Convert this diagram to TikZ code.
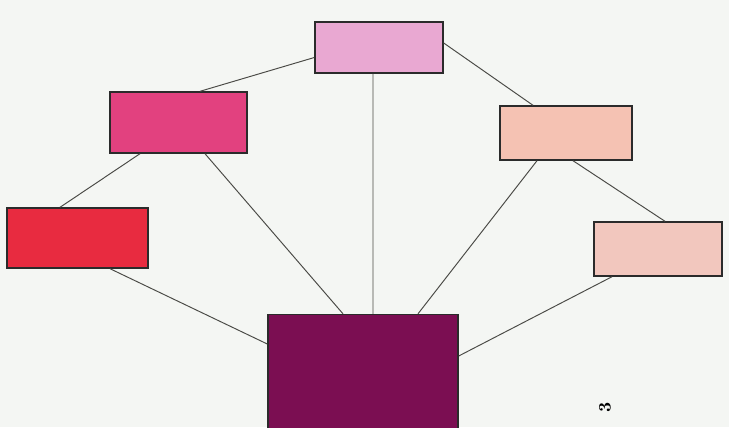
\documentclass[tikz,border=0pt]{standalone}
\usepackage{tikz}
\usetikzlibrary{positioning,calc}
\definecolor{paper}{HTML}{F4F6F3}
\definecolor{pencil}{HTML}{2B2B2B}
\definecolor{wire}{HTML}{4A4A46}
\definecolor{lilac}{HTML}{E9A8D2}
\definecolor{cerise}{HTML}{E2417F}
\definecolor{scarlet}{HTML}{E82B40}
\definecolor{peach}{HTML}{F5C2B3}
\definecolor{blush}{HTML}{F2C7BE}
\definecolor{plum}{HTML}{7B0E52}
\tikzset{
  card/.style={draw=pencil,line width=0.8pt,inner sep=0pt},
  link/.style={draw=wire,line width=0.55pt},
  pageno/.style={font=\normalsize\bfseries,text=black,rotate=90}}

\begin{document}
\begin{tikzpicture}[x=0.02cm,y=-0.02cm]
  \fill[paper] (0,0) rectangle (729,427);
  \useasboundingbox (0,0) rectangle (729,427);
  \node[card,fill=lilac,minimum width=2.56cm,minimum height=1.02cm] (topbox) at (379,47.5) {};
  \node[card,fill=cerise,minimum width=2.74cm,minimum height=1.22cm] (upleft) at (178.5,122.5) {};
  \node[card,fill=scarlet,minimum width=2.82cm,minimum height=1.2cm] (farleft) at (77.5,238) {};
  \node[card,fill=peach,minimum width=2.64cm,minimum height=1.08cm] (upright) at (566,133) {};
  \node[card,fill=blush,minimum width=2.56cm,minimum height=1.08cm] (farright) at (658,249) {};
  \node[card,fill=plum,minimum width=3.8cm,minimum height=2.3cm] (base) at (363,372) {};
  \node[pageno] (pg) at (605,407) {3};
  % links
  \draw[link] ($(topbox.west)+(0,-0.2cm)$) -- ($(upleft.north)+(0.43cm,0)$);
  \draw[link] ($(topbox.east)+(0,0.09cm)$) -- ($(upright.north)+(-0.66cm,0)$);
  \draw[link] ($(topbox.south)+(-0.12cm,0)$) -- ($(base.north)+(0.2cm,0)$);
  \draw[link] ($(upleft.south)+(-0.77cm,0)$) -- ($(farleft.north)+(-0.35cm,0)$);
  \draw[link] ($(upleft.south)+(0.53cm,0)$) -- ($(base.north)+(-0.4cm,0)$);
  \draw[link] ($(farleft.south)+(0.65cm,0)$) -- ($(base.west)+(0,0.56cm)$);
  \draw[link] ($(upright.south)+(-0.58cm,0)$) -- ($(base.north)+(1.1cm,0)$);
  \draw[link] ($(upright.south)+(0.14cm,0)$) -- ($(farright.north)+(0.14cm,0)$);
  \draw[link] ($(farright.south)+(-0.92cm,0)$) -- ($(base.east)+(0,0.32cm)$);
\end{tikzpicture}
\end{document}
